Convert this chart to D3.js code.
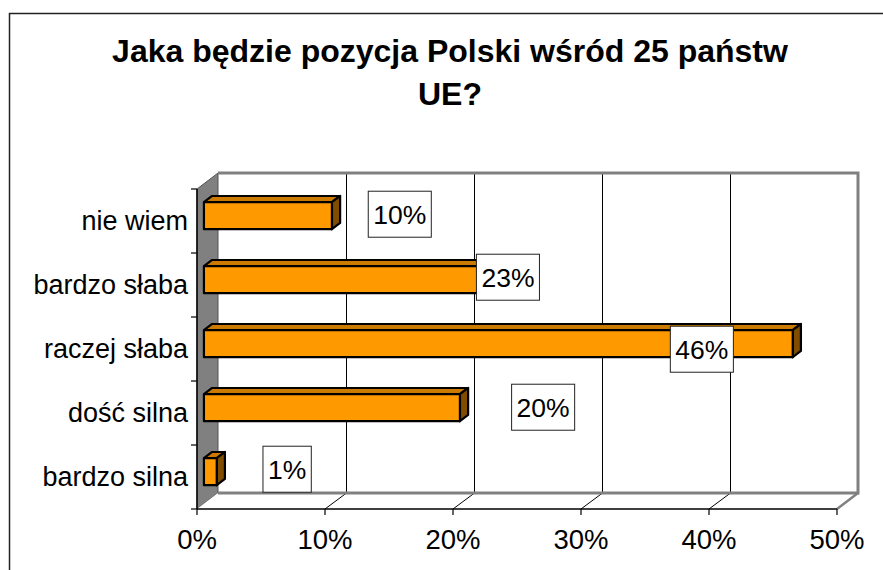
<!DOCTYPE html>
<html><head><meta charset="utf-8">
<script src="https://cdn.jsdelivr.net/npm/d3@7"></script>
<style>body{margin:0;background:#fff}svg{display:block}text{font-family:"Liberation Sans",Arial,sans-serif}</style>
</head><body><svg id="c" width="883" height="570"></svg>
<script>
// ---- data ----
const titleLines = ["Jaka będzie pozycja Polski wśród 25 państw", "UE?"];
const categories = ["nie wiem", "bardzo słaba", "raczej słaba", "dość silna", "bardzo silna"];
const values = [10, 23, 46, 20, 1];
const valueLabels = ["10%", "23%", "46%", "20%", "1%"];
const xTicks = [0, 10, 20, 30, 40, 50];
const xTickLabels = ["0%", "10%", "20%", "30%", "40%", "50%"];
// where Excel placed each data label, in axis units
const labelAt = [15.3, 23.75, 38.9, 26.5, 6.5];
const labelDy = [-1.5, -2.5, 5.5, -0.5, -2.5];

// ---- layout ----
const svg = d3.select("#c");
const D = {dx: 21, dy: -16};       // 3D depth of the plot
const f0 = 0.33, f1 = 0.72;        // bar front / back depth fractions
const x = d3.scaleLinear().domain([0, 50]).range([197, 837]);
const y = d3.scaleBand().domain(categories).range([189, 509]).paddingInner(0).paddingOuter(0);
const barH = 27;

// outer frame
svg.append("rect").attr("x", 9.5).attr("y", 13.5).attr("width", 900).attr("height", 600)
  .attr("fill", "none").attr("stroke", "#222").attr("stroke-width", 1.5);

// title
const t = svg.append("text").attr("text-anchor", "middle").attr("font-weight", "bold")
  .attr("font-size", 32).attr("fill", "#000");
titleLines.forEach((l, i) => t.append("tspan").attr("x", 450).attr("y", 62 + i * 43).text(l));

const x0 = x(0), x1 = x(50), yT = y.range()[0], yB = y.range()[1];
const back = v => Math.round(x(v) + D.dx) + 0.5;

// side wall
svg.append("polygon")
  .attr("points", [[x0, yT], [x0 + D.dx, yT + D.dy], [x0 + D.dx, yB + D.dy], [x0, yB]].join(" "))
  .attr("fill", "#808080").attr("stroke", "#555").attr("stroke-width", 1);
// floor
svg.append("polygon")
  .attr("points", [[x0, yB], [x0 + D.dx, yB + D.dy], [x1 + D.dx, yB + D.dy], [x1, yB]].join(" "))
  .attr("fill", "#fff").attr("stroke", "none");
// back wall gridlines
const gridV = xTicks.filter(v => v > 0 && v < 50);
svg.selectAll(".g").data(gridV).join("line")
  .attr("x1", d => back(d)).attr("x2", d => back(d))
  .attr("y1", yT + D.dy).attr("y2", yB + D.dy).attr("stroke", "#000").attr("stroke-width", 1);
svg.selectAll(".gf").data(gridV).join("line")
  .attr("x1", d => x(d)).attr("x2", d => back(d))
  .attr("y1", yB).attr("y2", yB + D.dy).attr("stroke", "#000").attr("stroke-width", 1);
// back wall border (top, right, bottom) gray
svg.append("path")
  .attr("d", `M${x0 + D.dx},${yT + D.dy}H${x1 + D.dx}V${yB + D.dy}H${x0 + D.dx}`)
  .attr("fill", "none").attr("stroke", "#808080").attr("stroke-width", 3);
svg.append("line").attr("x1", x1).attr("y1", yB).attr("x2", x1 + D.dx).attr("y2", yB + D.dy)
  .attr("stroke", "#808080").attr("stroke-width", 2.5);

// axes
svg.append("line").attr("x1", x0).attr("x2", x0).attr("y1", yT).attr("y2", yB)
  .attr("stroke", "#000").attr("stroke-width", 1.5);
svg.append("line").attr("x1", x0).attr("x2", x1).attr("y1", yB).attr("y2", yB)
  .attr("stroke", "#000").attr("stroke-width", 1.5);
const yTicks = categories.map(c => y(c)).concat([yB]);
svg.selectAll(".yt").data(yTicks).join("line")
  .attr("x1", x0 - 6).attr("x2", x0).attr("y1", d => d).attr("y2", d => d)
  .attr("stroke", "#000").attr("stroke-width", 1.2);
svg.selectAll(".xt").data(xTicks).join("line")
  .attr("x1", d => x(d)).attr("x2", d => x(d)).attr("y1", yB).attr("y2", yB + 6)
  .attr("stroke", "#000").attr("stroke-width", 1.2);
svg.selectAll(".xl").data(xTicks).join("text")
  .attr("x", d => x(d)).attr("y", 549).attr("text-anchor", "middle")
  .attr("font-size", 27.5).text((d, i) => xTickLabels[i]);
svg.selectAll(".yl").data(categories).join("text")
  .attr("x", 188).attr("y", d => y(d) + y.bandwidth() / 2 + 9).attr("text-anchor", "end")
  .attr("font-size", 27).text(d => d);

// bars (3D)
const bx = (v, f) => x(v) + f * D.dx;
const by = (c, f) => y(c) + y.bandwidth() / 2 + f * D.dy;
const gb = svg.append("g").attr("stroke", "#000").attr("stroke-width", 2.2).attr("stroke-linejoin", "round");
categories.forEach((c, i) => {
  const v = values[i];
  const xa = bx(0, f0), xb = bx(v, f0), ddx = (f1 - f0) * D.dx, ddy = (f1 - f0) * D.dy;
  const yt = by(c, f0) - barH / 2, yb = by(c, f0) + barH / 2;
  gb.append("polygon").attr("points", [[xa, yt], [xa + ddx, yt + ddy], [xb + ddx, yt + ddy], [xb, yt]].join(" "))
    .attr("fill", "#CC7A00");
  gb.append("polygon").attr("points", [[xb, yt], [xb + ddx, yt + ddy], [xb + ddx, yb + ddy], [xb, yb]].join(" "))
    .attr("fill", "#7F4C00");
  gb.append("rect").attr("x", xa).attr("y", yt).attr("width", xb - xa).attr("height", barH)
    .attr("fill", "#FF9900");
});

// data labels
categories.forEach((c, i) => {
  const cx = bx(labelAt[i], f0), cy = by(c, f0) + labelDy[i];
  const g = svg.append("g");
  const tx = g.append("text").attr("x", cx).attr("y", cy + 9.5).attr("text-anchor", "middle")
    .attr("font-size", 26.5).text(valueLabels[i]);
  const w = tx.node().getComputedTextLength() + 10;
  g.insert("rect", "text").attr("x", cx - w / 2).attr("y", cy - 23).attr("width", w).attr("height", 46)
    .attr("fill", "#fff").attr("stroke", "#222").attr("stroke-width", 1);
});
</script></body></html>
